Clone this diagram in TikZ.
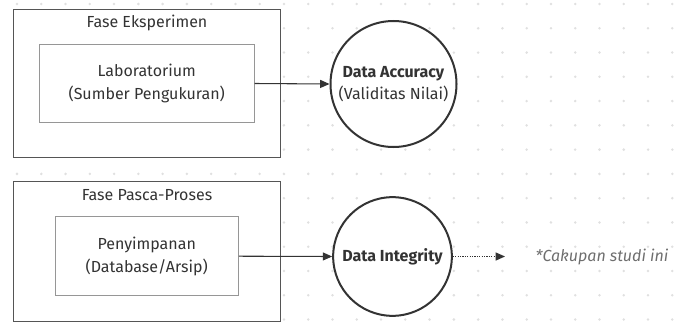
\documentclass[tikz,border=0pt]{standalone}
\usepackage{fontspec}
\setmainfont{Fira Sans}
\usetikzlibrary{arrows.meta}
\definecolor{gridgray}{RGB}{224,224,224}
\definecolor{framegray}{RGB}{85,85,85}
\definecolor{boxgray}{RGB}{150,150,150}
\definecolor{inkdark}{RGB}{51,51,51}
\definecolor{notegray}{RGB}{110,110,110}
\tikzset{
	phase/.style={draw=framegray, fill=white, line width=0.8pt, inner sep=0pt},
	source/.style={draw=boxgray, fill=white, line width=0.8pt, align=center,
		inner sep=0pt, text=inkdark},
	quality/.style={circle, draw=inkdark, fill=white, line width=1.5pt,
		align=center, inner sep=0pt, text=inkdark},
	flow/.style={-{Triangle[length=7pt,width=6pt]}, draw=inkdark, line width=0.8pt},
}
\begin{document}
\begin{tikzpicture}[x=0.75pt, y=-0.75pt, font=\fontsize{12}{17}\selectfont]
	\useasboundingbox (0,0) rectangle (685,332);
	% dotted background
	\foreach \i in {0,...,27} {
		\foreach \j in {0,...,13} {
			\fill[gridgray] (17+24.27*\i, 4+24.27*\j) circle (1.4);
		}
	}
	% phase frames
	\node[phase, minimum width=200pt, minimum height=111pt] (expframe) at (147,83.3) {};
	\node[text=inkdark] (exptitle) at (147,22.7) {Fase Eksperimen};
	\node[phase, minimum width=200pt, minimum height=105pt] (postframe) at (147,251.7) {};
	\node[text=inkdark] (posttitle) at (147,195) {Fase Pasca-Proses};
	% sources
	\node[
		  source,
		  minimum width=161pt,
		  minimum height=58.8pt
		 ] (lab) at (146.7,83.5) {Laboratorium\\(Sumber Pengukuran)};
	\node[
		  source,
		  minimum width=137.5pt,
		  minimum height=59.2pt
		 ] (storage) at (146.7,256.2) {Penyimpanan\\(Database/Arsip)};
	% data qualities
	\node[quality, minimum size=94.5pt] (accuracy) at (393.5,84)
		{\textbf{Data Accuracy}\\(Validitas Nilai)};
	\node[quality, minimum size=89pt] (integrity) at (392.5,256.5)
		{\textbf{Data Integrity}};
	\coordinate (scopeend) at (505,256.5);
	\node[text=notegray, font=\fontsize{12}{14}\selectfont\itshape] (scopenote) at (602,256.5)
		{*Cakupan studi ini};
	% connectors
	\draw[flow] (lab.east) -- (accuracy.west);
	\draw[flow] (storage.east) -- (integrity.west);
	\draw[flow, densely dotted] (integrity.east) -- (scopeend);
\end{tikzpicture}
\end{document}
